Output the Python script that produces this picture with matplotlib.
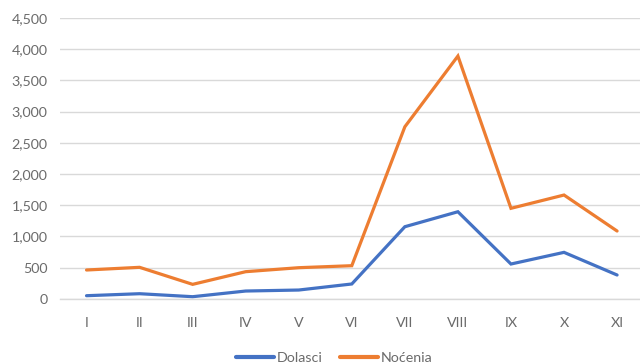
import matplotlib
matplotlib.use("Agg")
import matplotlib.pyplot as plt
from matplotlib.ticker import FuncFormatter, MultipleLocator

categories = ["I", "II", "III", "IV", "V", "VI", "VII", "VIII", "IX", "X", "XI"]
dolasci = [48, 80, 32, 123, 139, 236, 1154, 1394, 556, 743, 380]
nocenia = [460, 503, 230, 433, 497, 529, 2756, 3890, 1449, 1662, 1085]
series_names = ["Dolasci", "Noćenia"]

plt.rcParams['font.family'] = ['Lato', 'DejaVu Sans']
text_color = "#6b6b6b"

fig = plt.figure(figsize=(6.4, 3.64), dpi=100)
ax = fig.add_axes([60/640, 65.3/364, 583.6/640, 280.7/364])

x = list(range(len(categories)))
ax.plot(x, dolasci, color="#4472C4", lw=2.3, label=series_names[0], solid_capstyle="round", solid_joinstyle="miter")
ax.plot(x, nocenia, color="#ED7D31", lw=2.3, label=series_names[1], solid_capstyle="round", solid_joinstyle="miter")

ax.set_xlim(-0.5, len(categories) - 0.5)
ax.set_ylim(0, 4500)
ax.yaxis.set_major_locator(MultipleLocator(500))
ax.yaxis.set_major_formatter(FuncFormatter(lambda v, p: f"{int(v):,}"))
ax.set_xticks(x)
ax.set_xticklabels(categories)

ax.grid(axis="y", color="#d9d9d9", lw=1.0)
ax.set_axisbelow(True)
for s in ["top", "right", "left"]:
    ax.spines[s].set_visible(False)
ax.spines["bottom"].set_color("#d9d9d9")
ax.spines["bottom"].set_linewidth(1.0)
ax.tick_params(axis="both", length=0, labelsize=10.3, colors=text_color)
ax.tick_params(axis="x", pad=13)
ax.tick_params(axis="y", pad=9)

leg = fig.legend(loc="center", bbox_to_anchor=(334/640, 6/364), ncol=2, frameon=False,
                 fontsize=10.3, handlelength=2.7, handletextpad=0.15, columnspacing=1.2)
for t in leg.get_texts():
    t.set_color(text_color)
for h in leg.get_lines():
    h.set_linewidth(3)

fig.savefig("out.png", dpi=100)
